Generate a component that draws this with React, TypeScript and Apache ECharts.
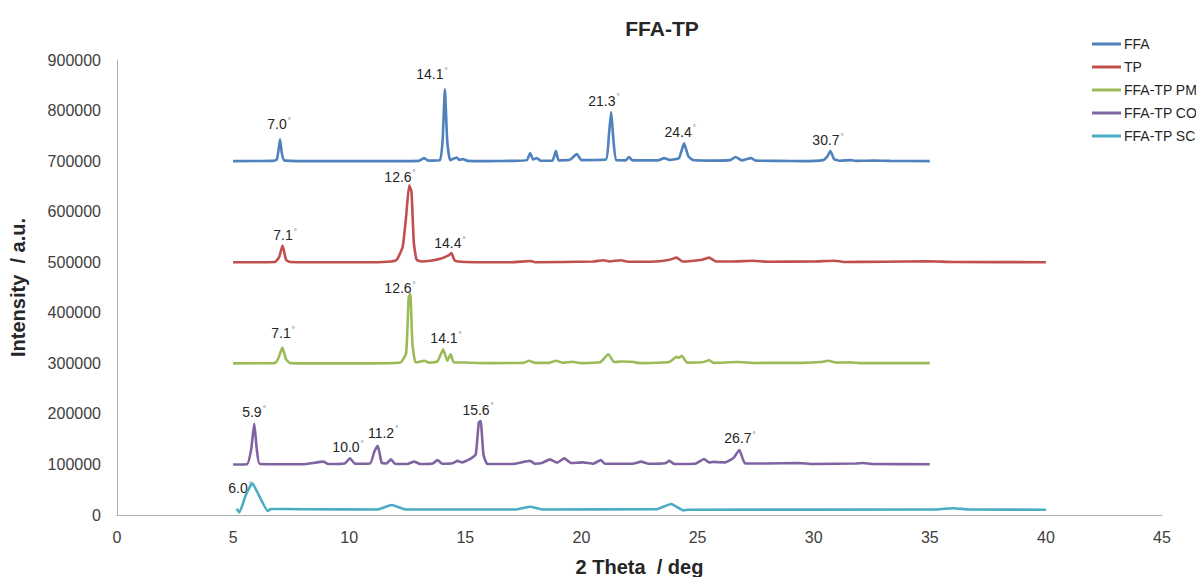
import React, { useEffect, useRef } from "react";
import * as echarts from "echarts";

const FONT = "'Liberation Sans', Arial, Helvetica, sans-serif";

const seriesNames = ["FFA", "TP", "FFA-TP PM", "FFA-TP CO", "FFA-TP SC"];
const seriesColors = ["#4F81BD", "#C0504D", "#9BBB59", "#8064A2", "#4BACC6"];

const xTicks = { min: 0, max: 45, interval: 5 };
const yTicks = { min: 0, max: 900000, interval: 100000 };

const ffa: [number, number][] = [
  [5.0, 700000], [6.7, 700500], [6.88, 703000], [6.95, 720000], [7.02, 743000], [7.1, 715000], [7.2, 701500],
  [8.5, 700000], [10, 700000], [11.5, 700000], [13.0, 700500], [13.22, 706000], [13.4, 701000], [13.9, 702000],
  [14.02, 740000], [14.12, 842000], [14.22, 740000], [14.35, 702000], [14.63, 707000], [14.75, 702500], [14.9, 704000],
  [15.1, 700500], [16, 700000], [17.0, 700500], [17.65, 702000], [17.79, 716000], [17.92, 703000], [18.07, 706000],
  [18.25, 700800], [18.75, 701000], [18.9, 720000], [19.02, 701500], [19.5, 702500], [19.8, 714000], [20.0, 702000],
  [21.05, 703000], [21.18, 750000], [21.28, 797000], [21.38, 740000], [21.5, 702000], [21.9, 701500], [22.05, 708000],
  [22.2, 701500], [23.3, 701500], [23.56, 706000], [23.8, 702500], [24.2, 706000], [24.42, 735000], [24.6, 710000],
  [24.8, 702000], [25.5, 701000], [26.4, 702000], [26.64, 708000], [26.9, 701500], [27.3, 706000], [27.5, 701000],
  [28.5, 700500], [29.5, 700000], [30.4, 702000], [30.6, 710000], [30.72, 720000], [30.88, 704000], [31.1, 700800],
  [31.6, 702000], [31.8, 700500], [32.6, 701000], [33.3, 700500], [35, 700000],
];

const tp: [number, number][] = [
  [5, 500000], [6.8, 500500], [6.98, 510000], [7.13, 533000], [7.28, 505000], [7.45, 500500], [9, 500000],
  [11, 500000], [11.8, 501500], [12.05, 505000], [12.3, 530000], [12.45, 590000], [12.58, 652000], [12.68, 640000],
  [12.78, 540000], [12.9, 505000], [13.1, 501500], [13.5, 503000], [14.0, 508000], [14.3, 514000], [14.4, 518000],
  [14.55, 503000], [15, 500500], [17, 500000], [17.8, 502500], [18, 500000], [20.5, 501500], [20.94, 504000],
  [21.2, 501500], [21.7, 504000], [22, 501000], [23.2, 501500], [23.8, 505000], [24.1, 509000], [24.35, 501500],
  [25.2, 505000], [25.5, 509000], [25.8, 501500], [26.5, 501500], [27.4, 503000], [28, 501000], [30.0, 501500],
  [30.9, 503000], [31.3, 500500], [33, 500800], [34.9, 502000], [36, 500500], [40, 500000],
];

const pm: [number, number][] = [
  [5, 300000], [6.8, 300500], [6.95, 310000], [7.12, 331000], [7.28, 308000], [7.45, 300500], [9, 300000],
  [11, 300000], [12.2, 301500], [12.45, 320000], [12.56, 430000], [12.63, 438000], [12.72, 340000], [12.85, 302000],
  [13.0, 302500], [13.23, 305000], [13.45, 301500], [13.8, 304000], [14.05, 328000], [14.22, 305000], [14.37, 318000],
  [14.5, 302000], [15, 301500], [16, 300500], [17.5, 301000], [17.74, 305000], [18.0, 301000], [18.6, 301000],
  [18.9, 305000], [19.2, 301000], [19.6, 303000], [20.0, 300500], [20.8, 302000], [21.16, 318000], [21.4, 302500],
  [21.73, 303500], [22.2, 303000], [22.5, 300500], [23.5, 301500], [23.8, 303000], [24.1, 313000], [24.2, 311000],
  [24.32, 315000], [24.55, 301500], [25.2, 302000], [25.5, 306000], [25.7, 301000], [26.7, 302500], [27.5, 300800],
  [29.5, 301000], [30.3, 302500], [30.62, 305000], [31.0, 301500], [31.57, 302000], [32, 300500], [35, 300500],
];

const co: [number, number][] = [
  [5, 100000], [5.6, 100500], [5.78, 130000], [5.91, 181000], [6.02, 130000], [6.15, 101000], [8, 100500],
  [8.89, 105500], [9.1, 101000], [9.8, 102000], [10.03, 112000], [10.25, 101500], [10.9, 102000], [11.08, 125000],
  [11.23, 137000], [11.4, 103000], [11.6, 102000], [11.8, 110000], [11.98, 101000], [12.5, 101000], [12.8, 105500],
  [13.05, 101000], [13.6, 102000], [13.8, 108800], [14.0, 101500], [14.45, 102500], [14.67, 107000], [14.85, 104000],
  [15.28, 113000], [15.45, 120000], [15.58, 183000], [15.66, 186000], [15.78, 120000], [15.95, 101000], [17, 101000],
  [17.79, 107000], [18.0, 101500], [18.3, 103000], [18.65, 110000], [18.95, 103500], [19.26, 112000], [19.55, 103000],
  [20.07, 104000], [20.5, 101500], [20.84, 108800], [21.0, 101500], [22.2, 101500], [22.57, 105500], [22.9, 101500],
  [23.6, 102500], [23.79, 107000], [24.0, 101000], [24.9, 101500], [25.28, 110800], [25.5, 104000], [25.68, 105000],
  [26.2, 104000], [26.55, 113000], [26.8, 128600], [27.05, 102000], [28, 102000], [29.34, 103000], [30, 101000],
  [31.8, 102000], [32.14, 103000], [32.5, 101000], [35, 100500],
];

const sc: [number, number][] = [
  [5.15, 12500], [5.27, 5300], [5.55, 40000], [5.83, 62700], [6.1, 40000], [6.49, 8000], [6.63, 12000], [8, 11500],
  [11.2, 11000], [11.83, 19800], [12.45, 11000], [17.2, 11000], [17.79, 16400], [18.3, 11000], [23.24, 11500],
  [23.86, 21800], [24.39, 9000], [24.6, 10500], [35.3, 11000], [36.0, 13500], [36.7, 11000], [40, 10500],
];

// peak annotations: [x, y (data coords of label centre), text]
const ffaLabels: [number, number, string][] = [
  [6.98, 773000, "7.0"], [13.56, 872000, "14.1"], [20.97, 819000, "21.3"], [24.25, 757600, "24.4"], [30.62, 741750, "30.7"],
];
const tpLabels: [number, number, string][] = [
  [7.24, 553800, "7.1"], [12.19, 668600, "12.6"], [14.34, 538000, "14.4"],
];
const pmLabels: [number, number, string][] = [
  [7.15, 360000, "7.1"], [12.19, 449000, "12.6"], [14.17, 350100, "14.1"],
];
const coLabels: [number, number, string][] = [
  [5.9, 203700, "5.9"], [9.95, 134500, "10.0"], [11.46, 162200, "11.2"], [15.55, 207700, "15.6"], [26.83, 152300, "26.7"],
];
const scLabels: [number, number, string][] = [[5.3, 53400, "6.0"]];

const allData = [ffa, tp, pm, co, sc];
const allLabels = [ffaLabels, tpLabels, pmLabels, coLabels, scLabels];

export default function App() {
  const ref = useRef<HTMLDivElement>(null);
  useEffect(() => {
    if (!ref.current) return;
    const chart = echarts.init(ref.current, null, { renderer: "svg" });
    const series = seriesNames.map((name, i) => ({
      name,
      type: "line",
      data: allData[i],
      showSymbol: false,
      symbol: "none",
      smooth: 0.15,
      lineStyle: { width: 2.6, color: seriesColors[i] },
      itemStyle: { color: seriesColors[i] },
      z: 2 + i,
      markPoint: {
        symbol: "circle",
        symbolSize: 0,
        silent: true,
        label: {
          show: true,
          position: "inside",
          formatter: (p: any) => `{n|${p.name}}{d|°}`,
          rich: {
            n: { fontSize: 14, color: "#262626", fontFamily: FONT },
            d: { fontSize: 8, color: "#595959", fontFamily: FONT, padding: [0, 0, 8, 1] },
          },
        },
        data: allLabels[i].map(([x, y, t]) => ({ name: t, coord: [x, y] })),
      },
    }));
    chart.setOption({
      animation: false,
      title: {
        text: "FFA-TP",
        left: 657,
        top: 13,
        textAlign: "center",
        textStyle: { fontFamily: FONT, fontSize: 21, fontWeight: "bold", color: "#262626" },
      },
      legend: {
        orient: "vertical",
        left: 1087,
        top: 32,
        itemWidth: 29,
        itemHeight: 3,
        itemGap: 9,
        icon: "rect",
        textStyle: { fontFamily: FONT, fontSize: 14, color: "#262626", padding: [0, 0, 0, -2] },
        data: seriesNames,
      },
      grid: { left: 117, right: 34, top: 60, bottom: 62, containLabel: false, outerBoundsMode: "none" },
      xAxis: {
        type: "value",
        min: xTicks.min,
        max: xTicks.max,
        interval: xTicks.interval,
        name: "2 Theta  / deg",
        nameLocation: "middle",
        nameGap: 42,
        nameTextStyle: { fontFamily: FONT, fontSize: 20, fontWeight: "bold", color: "#262626" },
        axisLine: { show: true, lineStyle: { color: "#b0b0b0", width: 1 } },
        axisTick: { show: false },
        splitLine: { show: false },
        axisLabel: { fontFamily: FONT, fontSize: 16, color: "#404040", margin: 14 },
      },
      yAxis: {
        type: "value",
        min: yTicks.min,
        max: yTicks.max,
        interval: yTicks.interval,
        name: "Intensity  / a.u.",
        nameLocation: "middle",
        nameGap: 89,
        nameTextStyle: { fontFamily: FONT, fontSize: 20, fontWeight: "bold", color: "#262626" },
        axisLine: { show: true, lineStyle: { color: "#b0b0b0", width: 1 } },
        axisTick: { show: false },
        splitLine: { show: false },
        axisLabel: {
          fontFamily: FONT,
          fontSize: 16,
          color: "#404040",
          margin: 16,
          formatter: (v: number) => String(v),
        },
      },
      series,
    });
    return () => chart.dispose();
  }, []);
  return <div ref={ref} style={{ width: 1196, height: 577, position: "absolute", left: 0, top: 0 }} />;
}
